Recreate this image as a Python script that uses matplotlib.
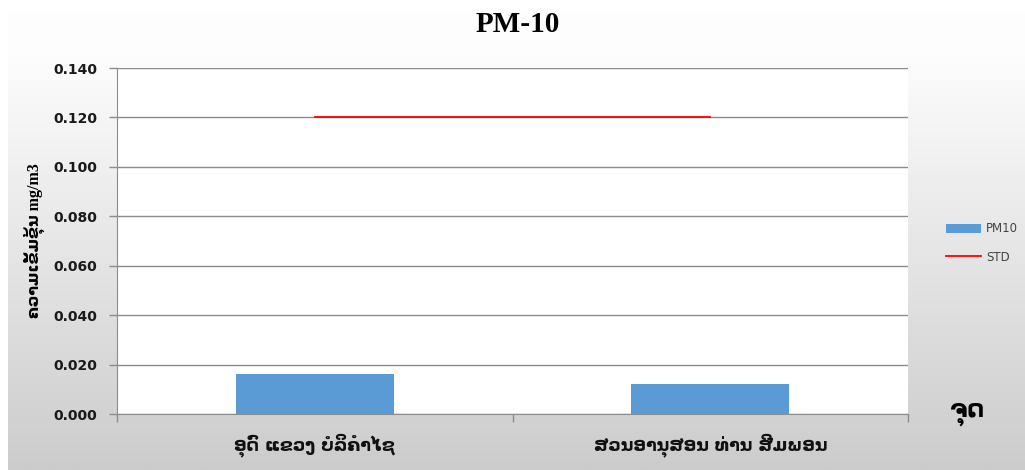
import numpy as np
import matplotlib
matplotlib.use("Agg")
import matplotlib.pyplot as plt

# Data
sites = ["ອຸດົ ແຂວງ ບໍລິຄຳໄຊ", "ສວນອານຸສອນ ທ່ານ ສີມພອນ"]
pm10 = [0.016, 0.012]
std_limit = [0.120, 0.120]
y_ticks = [0.000, 0.020, 0.040, 0.060, 0.080, 0.100, 0.120, 0.140]

plt.rcParams['font.family'] = ['DejaVu Sans']

W, H = 1025, 470
fig = plt.figure(figsize=(W / 100, H / 100), dpi=100)
fig.patch.set_facecolor("white")

# Gradient backdrop behind the chart
bg = fig.add_axes([8 / W, 0, 1 - 8 / W, 1 - 12 / H], zorder=-10)
grad = np.linspace(0, 1, 256).reshape(-1, 1)
grad = np.clip((grad - 0.08) / 0.92, 0, 1)
top = np.array([0.995, 0.995, 0.995])
bot = np.array([0.80, 0.80, 0.80])
img = top[None, None, :] * (1 - grad[:, :, None]) + bot[None, None, :] * grad[:, :, None]
bg.imshow(img, aspect="auto", extent=[0, 1, 0, 1], origin="upper")
bg.set_axis_off()

# Plot area: x 117..908, y 68..414 (pixels from top)
left, right, ytop, ybot = 117, 908, 68, 414
ax = fig.add_axes([left / W, 1 - ybot / H, (right - left) / W, (ybot - ytop) / H])
ax.set_facecolor("white")

x = np.arange(len(sites))
bars = ax.bar(x, pm10, width=0.4, color="#5b9bd5", zorder=3, label="PM10")
line, = ax.plot(x, std_limit, color="#ff0000", lw=1.3, zorder=4, label="STD")

ax.set_xlim(-0.5, len(sites) - 0.5)
ax.set_ylim(0, 0.14)
ax.set_yticks(y_ticks)
ax.set_yticklabels([f"{v:.3f}" for v in y_ticks], fontsize=10, fontweight="bold", color="#1a1a1a")
ax.yaxis.grid(True, color="#8c8c8c", lw=1.0, zorder=0)
ax.set_axisbelow(True)

ax.set_xticks(x)
ax.set_xticklabels(sites, fontsize=12.5, fontweight="bold", color="#111111")
ax.tick_params(axis="x", length=0, pad=14)
ax.set_xticks([-0.5, 0.5, 1.5], minor=True)
ax.tick_params(axis="x", which="minor", length=6, color="#8c8c8c", width=1.0)
ax.tick_params(axis="y", length=6, color="#8c8c8c", width=1.0, pad=8)

for side in ["top", "right"]:
    ax.spines[side].set_visible(False)
ax.spines["left"].set_color("#8c8c8c")
ax.spines["bottom"].set_color("#8c8c8c")

ax.set_ylabel("ຄວາມເຂັ້ມຂຸ້ນ mg/m3", fontsize=11.5, fontweight="bold", labelpad=6,
              family=["Liberation Serif", "DejaVu Sans"])

fig.text(518 / W, 1 - 25 / H, "PM-10", ha="center", va="center",
         fontsize=21, fontweight="bold", family="Liberation Serif")
fig.text(967 / W, 1 - 414 / H, "ຈຸດ", ha="center", va="center",
         fontsize=17, fontweight="bold")

leg = fig.legend([bars, line], ["PM10", "STD"], loc="center left",
                 bbox_to_anchor=(935 / W, 1 - 243 / H),
                 frameon=False, fontsize=8.5, handlelength=3.0,
                 handleheight=0.8, labelspacing=1.3, handletextpad=0.4)
for t in leg.get_texts():
    t.set_color("#444444")

fig.savefig("out.png", dpi=100, facecolor=fig.get_facecolor())
